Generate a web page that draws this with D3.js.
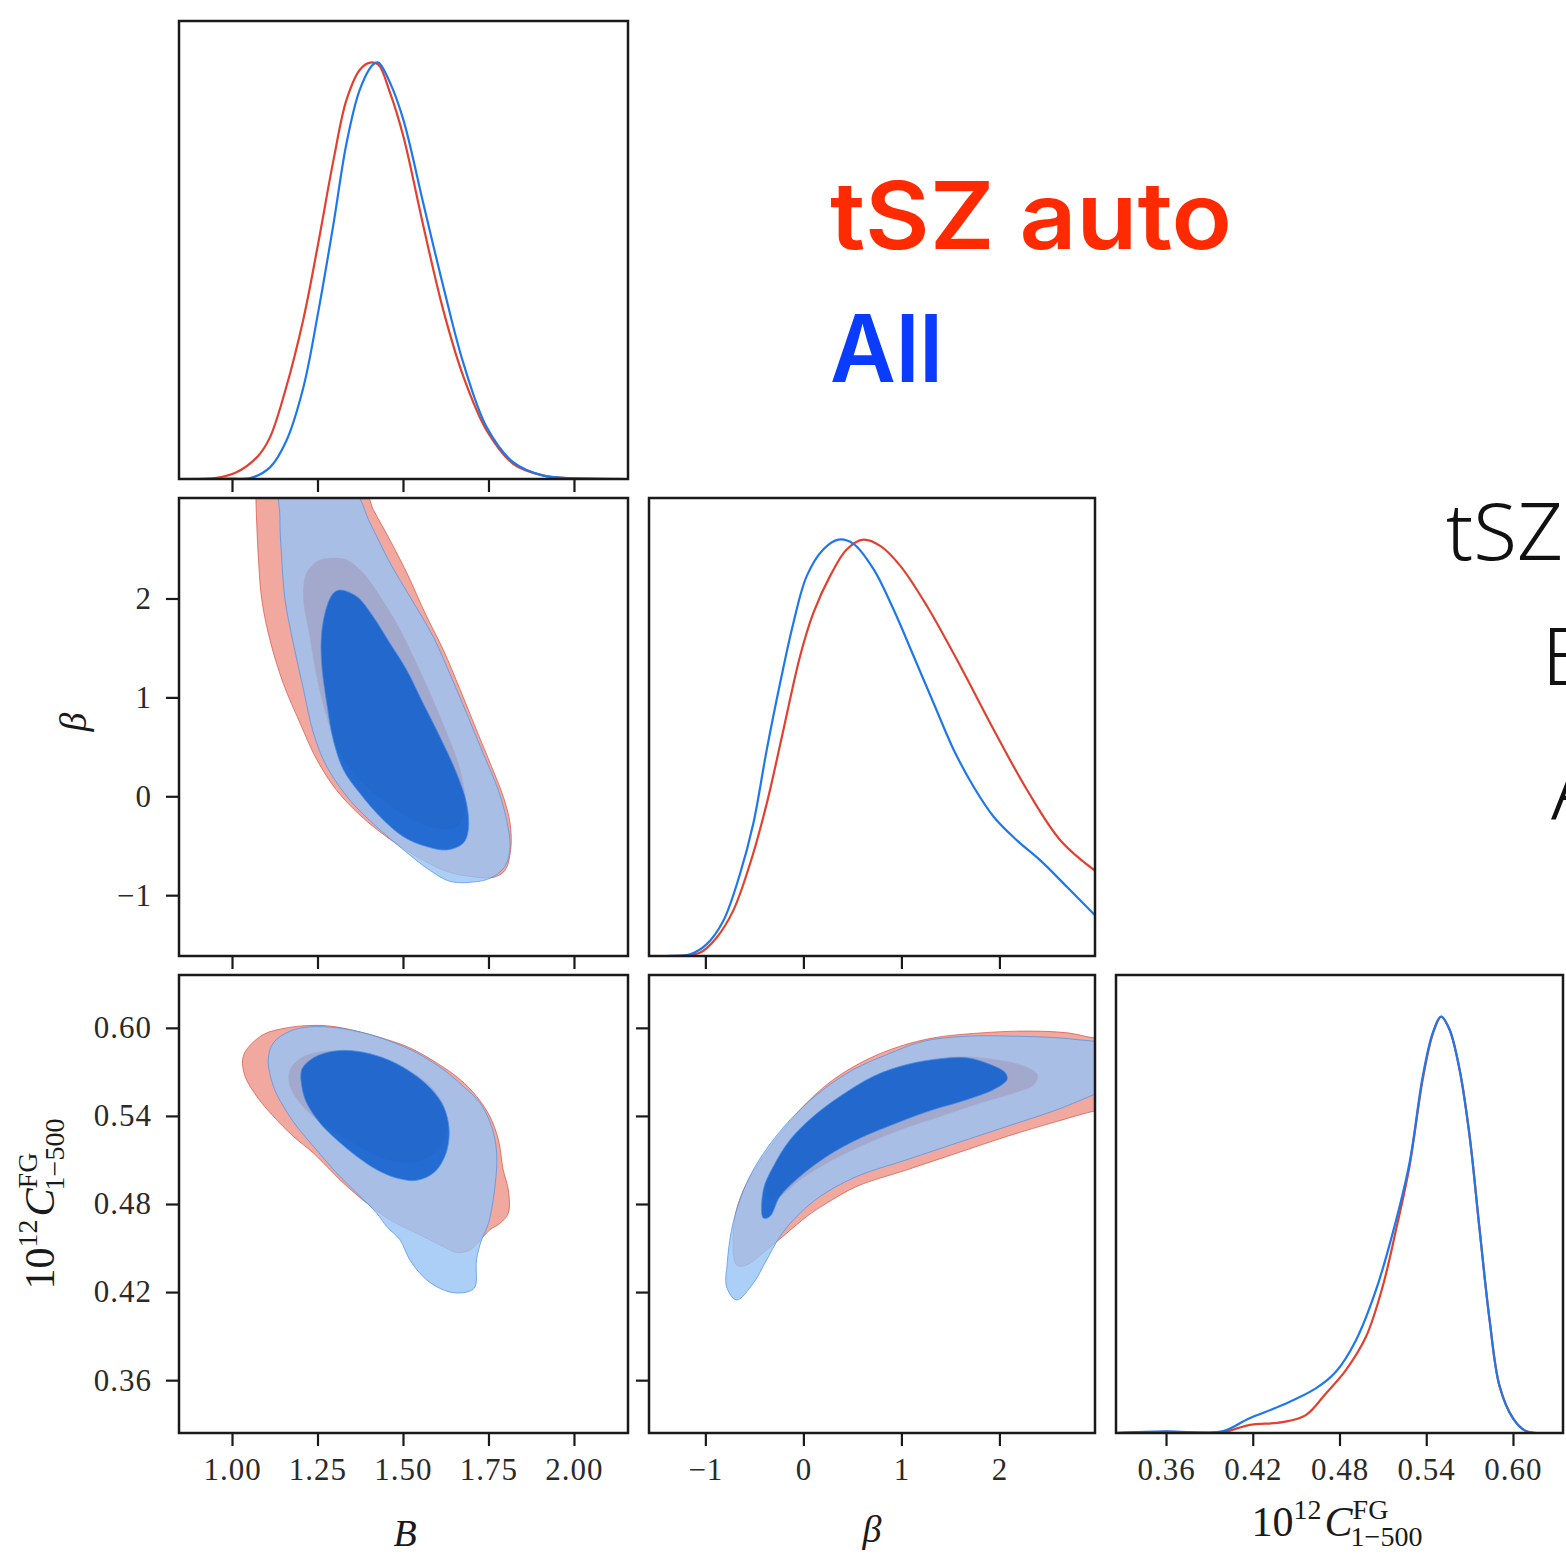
<!DOCTYPE html>
<html>
<head>
<meta charset="utf-8">
<style>
  body { margin: 0; background: #fff; }
  svg { display: block; }
</style>
</head>
<body>
<svg width="1566" height="1557"></svg>
<script src="https://cdn.jsdelivr.net/npm/d3@7"></script>
<script>
  // ---- axis ranges and ticks ----
  var bRange = [0.845, 2.158];
  var betaRangeX = [-1.575, 2.975];
  var betaRangeY = [-1.615, 3.016];
  var cRangeX = [0.3254, 0.6346];
  var cRangeY = [0.324, 0.636];
  var bTicks = [1.00, 1.25, 1.50, 1.75, 2.00];
  var betaTicks = [-1, 0, 1, 2];
  var cTicks = [0.36, 0.42, 0.48, 0.54, 0.60];

  // ---- 1D marginals: [value, normalised density] ----
  var bTsz = [[0.845,0],[0.95,0.002],[1.013,0.016],[1.077,0.056],[1.111,0.10],[1.155,0.21],[1.209,0.385],[1.253,0.57],[1.297,0.767],[1.335,0.911],[1.374,0.983],[1.404,1.0],[1.428,0.995],[1.462,0.928],[1.501,0.823],[1.560,0.606],[1.618,0.405],[1.677,0.245],[1.745,0.116],[1.823,0.036],[1.911,0.008],[1.988,0.002],[2.158,0]];
  var bAll = [[0.845,0],[1.0,0.001],[1.053,0.002],[1.111,0.028],[1.159,0.092],[1.209,0.221],[1.253,0.405],[1.297,0.614],[1.335,0.807],[1.374,0.936],[1.413,0.996],[1.428,1.0],[1.462,0.952],[1.501,0.863],[1.560,0.66],[1.618,0.462],[1.677,0.277],[1.745,0.124],[1.823,0.04],[1.911,0.008],[1.988,0.002],[2.158,0]];
  var betaTsz = [[-1.575,0],[-1.36,0],[-1.056,0.008],[-0.886,0.044],[-0.716,0.109],[-0.545,0.221],[-0.374,0.366],[-0.204,0.543],[-0.034,0.72],[0.102,0.824],[0.273,0.913],[0.444,0.977],[0.613,1.0],[0.784,0.985],[0.989,0.937],[1.262,0.84],[1.602,0.696],[1.943,0.543],[2.284,0.398],[2.625,0.277],[2.975,0.205]];
  var betaAll = [[-1.575,0],[-1.40,0],[-1.158,0.004],[-0.988,0.028],[-0.818,0.084],[-0.647,0.197],[-0.511,0.318],[-0.374,0.495],[-0.238,0.655],[-0.102,0.80],[0.035,0.913],[0.205,0.977],[0.358,1.0],[0.511,0.99],[0.716,0.929],[0.92,0.832],[1.125,0.72],[1.329,0.607],[1.534,0.495],[1.738,0.406],[1.943,0.334],[2.182,0.277],[2.42,0.229],[2.693,0.165],[2.975,0.098]];
  var cTsz = [[0.3254,0],[0.36,0.003],[0.3988,0.002],[0.4174,0.019],[0.4405,0.026],[0.4567,0.043],[0.4706,0.095],[0.4844,0.151],[0.4983,0.231],[0.5098,0.351],[0.5191,0.488],[0.5284,0.64],[0.5376,0.85],[0.5445,0.958],[0.5503,1.0],[0.5561,0.969],[0.5630,0.875],[0.57,0.715],[0.5769,0.49],[0.5838,0.273],[0.5908,0.112],[0.60,0.036],[0.6093,0.004],[0.6346,0]];
  var cAll = [[0.3254,0],[0.36,0.004],[0.3988,0.004],[0.4174,0.035],[0.4405,0.067],[0.4636,0.107],[0.4775,0.147],[0.4914,0.223],[0.5052,0.343],[0.5168,0.48],[0.5284,0.648],[0.5376,0.857],[0.5445,0.961],[0.5503,1.0],[0.5561,0.969],[0.5630,0.873],[0.57,0.712],[0.5769,0.488],[0.5838,0.271],[0.5908,0.111],[0.60,0.035],[0.6093,0.004],[0.6346,0]];

  // ---- 2D contours (68% inner, 95% outer) ----
  // B vs beta
  var bBetaTsz95 = [[1.070,3.10],[1.070,3.00],[1.077,2.42],[1.087,1.99],[1.111,1.58],[1.150,1.14],[1.199,0.74],[1.248,0.37],[1.306,0.06],[1.374,-0.19],[1.452,-0.41],[1.540,-0.61],[1.628,-0.76],[1.696,-0.81],[1.764,-0.82],[1.798,-0.75],[1.815,-0.54],[1.813,-0.27],[1.793,0.00],[1.759,0.30],[1.715,0.67],[1.667,1.08],[1.618,1.48],[1.569,1.82],[1.511,2.26],[1.462,2.59],[1.413,2.90],[1.384,3.10]];
  var bBetaTsz68 = [[1.287,2.406],[1.335,2.389],[1.384,2.254],[1.433,2.019],[1.481,1.749],[1.530,1.412],[1.579,1.041],[1.628,0.637],[1.667,0.266],[1.681,-0.105],[1.657,-0.307],[1.579,-0.307],[1.481,-0.138],[1.384,0.131],[1.316,0.435],[1.277,0.805],[1.248,1.210],[1.228,1.614],[1.209,2.019],[1.218,2.254],[1.248,2.372]];
  var bBetaAll95 = [[1.145,3.10],[1.140,2.83],[1.145,2.42],[1.155,1.99],[1.179,1.55],[1.209,1.08],[1.238,0.64],[1.277,0.30],[1.345,-0.04],[1.423,-0.31],[1.501,-0.54],[1.579,-0.75],[1.637,-0.86],[1.696,-0.87],[1.754,-0.83],[1.798,-0.71],[1.813,-0.51],[1.803,-0.24],[1.779,0.06],[1.735,0.43],[1.686,0.84],[1.637,1.24],[1.589,1.61],[1.520,2.02],[1.462,2.36],[1.404,2.76],[1.350,3.10]];
  var bBetaAll68 = [[1.316,2.086],[1.365,2.019],[1.413,1.816],[1.462,1.547],[1.511,1.277],[1.559,0.940],[1.608,0.603],[1.657,0.232],[1.686,-0.071],[1.691,-0.341],[1.676,-0.475],[1.628,-0.543],[1.569,-0.509],[1.501,-0.408],[1.433,-0.206],[1.374,0.030],[1.326,0.266],[1.296,0.570],[1.277,0.940],[1.262,1.345],[1.262,1.648],[1.277,1.917],[1.296,2.052]];
  // B vs C
  var bCTsz95 = [[1.031,0.5784],[1.043,0.5853],[1.092,0.5955],[1.160,0.6000],[1.228,0.6016],[1.287,0.6012],[1.365,0.5978],[1.452,0.5921],[1.520,0.5864],[1.598,0.5762],[1.667,0.5648],[1.715,0.5534],[1.754,0.5397],[1.779,0.5238],[1.793,0.5033],[1.808,0.4897],[1.808,0.4738],[1.784,0.4669],[1.754,0.4624],[1.735,0.4578],[1.696,0.4487],[1.657,0.4469],[1.618,0.4510],[1.540,0.4601],[1.462,0.4692],[1.394,0.4806],[1.326,0.4942],[1.277,0.5056],[1.238,0.5147],[1.179,0.5261],[1.121,0.5397],[1.072,0.5534],[1.038,0.5671]];
  var bCTsz68 = [[1.170,0.5716],[1.209,0.5803],[1.277,0.5841],[1.365,0.5830],[1.452,0.5784],[1.530,0.5693],[1.589,0.5580],[1.623,0.5443],[1.628,0.5306],[1.608,0.5193],[1.569,0.5113],[1.511,0.5079],[1.442,0.5113],[1.374,0.5193],[1.306,0.5284],[1.248,0.5375],[1.199,0.5489],[1.170,0.5602]];
  var bCAll95 = [[1.106,0.5784],[1.121,0.5898],[1.170,0.5978],[1.228,0.6007],[1.306,0.6000],[1.384,0.5966],[1.462,0.5909],[1.540,0.5830],[1.618,0.5716],[1.676,0.5602],[1.725,0.5489],[1.759,0.5329],[1.774,0.5147],[1.769,0.4920],[1.750,0.4669],[1.730,0.4556],[1.715,0.4419],[1.711,0.4237],[1.691,0.4203],[1.647,0.4196],[1.598,0.4237],[1.559,0.4305],[1.520,0.4419],[1.491,0.4556],[1.452,0.4647],[1.423,0.4738],[1.365,0.4874],[1.306,0.5011],[1.238,0.5193],[1.189,0.5329],[1.150,0.5466],[1.121,0.5602]];
  var bCAll68 = [[1.204,0.5716],[1.238,0.5796],[1.296,0.5841],[1.365,0.5841],[1.442,0.5796],[1.511,0.5716],[1.569,0.5614],[1.613,0.5489],[1.633,0.5352],[1.633,0.5216],[1.618,0.5102],[1.589,0.5011],[1.540,0.4961],[1.481,0.4977],[1.423,0.5034],[1.365,0.5124],[1.306,0.5238],[1.257,0.5352],[1.218,0.5489],[1.204,0.5602]];
  // beta vs C
  var betaCTsz95 = [[-0.682,0.4385],[-0.716,0.4578],[-0.682,0.4760],[-0.579,0.4942],[-0.409,0.5124],[-0.204,0.5306],[0.034,0.5489],[0.307,0.5648],[0.648,0.5784],[0.988,0.5875],[1.329,0.5932],[1.738,0.5962],[2.249,0.5978],[2.693,0.5966],[2.965,0.5932],[3.10,0.5932],[3.10,0.5443],[2.965,0.5432],[2.590,0.5363],[2.079,0.5261],[1.568,0.5147],[1.057,0.5033],[0.545,0.4920],[0.239,0.4806],[0.034,0.4715],[-0.170,0.4601],[-0.375,0.4487],[-0.579,0.4385]];
  var betaCTsz68 = [[-0.341,0.4829],[-0.375,0.4942],[-0.239,0.5124],[-0.034,0.5306],[0.239,0.5466],[0.545,0.5602],[0.886,0.5716],[1.261,0.5780],[1.602,0.5803],[1.943,0.5784],[2.249,0.5739],[2.386,0.5682],[2.352,0.5614],[2.147,0.5557],[1.806,0.5489],[1.397,0.5397],[0.988,0.5306],[0.579,0.5193],[0.239,0.5079],[-0.034,0.4965],[-0.239,0.4851]];
  var betaCAll95 = [[-0.682,0.4146],[-0.784,0.4237],[-0.777,0.4396],[-0.733,0.4624],[-0.648,0.4829],[-0.511,0.5033],[-0.307,0.5238],[-0.068,0.5420],[0.204,0.5580],[0.511,0.5716],[0.852,0.5818],[1.227,0.5909],[1.670,0.5943],[2.147,0.5943],[2.590,0.5932],[2.965,0.5909],[3.10,0.5903],[3.10,0.5580],[2.965,0.5545],[2.590,0.5443],[2.079,0.5329],[1.568,0.5216],[1.057,0.5102],[0.545,0.4988],[0.170,0.4851],[-0.068,0.4715],[-0.239,0.4578],[-0.375,0.4419],[-0.511,0.4260]];
  var betaCAll68 = [[-0.409,0.4704],[-0.409,0.4897],[-0.307,0.5056],[-0.136,0.5238],[0.102,0.5397],[0.375,0.5534],[0.716,0.5671],[1.057,0.5750],[1.397,0.5789],[1.670,0.5796],[1.909,0.5750],[2.062,0.5693],[2.079,0.5648],[1.943,0.5580],[1.670,0.5511],[1.329,0.5443],[0.954,0.5352],[0.545,0.5238],[0.239,0.5124],[-0.034,0.4988],[-0.239,0.4851],[-0.341,0.4715]];

  // ---- layout and style ----
  var svg = d3.select("svg");
  var colX = [[179, 628], [649, 1095], [1116, 1563]];
  var rowY = [[21, 479], [498, 956], [975, 1433]];
  var serif = "'Liberation Serif', 'DejaVu Serif', serif";
  var redLine = "#e2412f", blueLine = "#1f78eb";
  var style = {
    tsz: { line: redLine, f95: "#f1a89e", f68: "#d73c2d", op: 1, stroke: "#d9503f" },
    all: { line: blueLine, f95: "#96c3f5", f68: "#0357cd", op: 0.8, stroke: "#4a90e8" }
  };

  var xB = d3.scaleLinear().domain(bRange).range(colX[0]);
  var xBeta = d3.scaleLinear().domain(betaRangeX).range(colX[1]);
  var xC = d3.scaleLinear().domain(cRangeX).range(colX[2]);
  var yBeta = d3.scaleLinear().domain(betaRangeY).range([rowY[1][1], rowY[1][0]]);
  var yC = d3.scaleLinear().domain(cRangeY).range([rowY[2][1], rowY[2][0]]);

  var clipId = 0;
  function panel(c, r) {
    var id = "clip" + (clipId++);
    svg.append("clipPath").attr("id", id).append("rect")
      .attr("x", colX[c][0]).attr("y", rowY[r][0])
      .attr("width", colX[c][1] - colX[c][0]).attr("height", rowY[r][1] - rowY[r][0]);
    return svg.append("g").attr("clip-path", "url(#" + id + ")");
  }

  function frame(c, r) {
    svg.append("rect")
      .attr("x", colX[c][0]).attr("y", rowY[r][0])
      .attr("width", colX[c][1] - colX[c][0]).attr("height", rowY[r][1] - rowY[r][0])
      .attr("fill", "none").attr("stroke", "#1a1a1a").attr("stroke-width", 2.5);
  }

  function styleAxis(g) {
    g.select(".domain").remove();
    g.selectAll(".tick line").attr("stroke", "#1a1a1a").attr("stroke-width", 2.2);
    g.selectAll(".tick text").attr("font-family", serif).attr("font-size", 31)
      .attr("fill", "#2a2a2a").attr("letter-spacing", 1);
  }

  function bottomAxis(scale, ticks, r, fmt) {
    var ax = d3.axisBottom(scale).tickValues(ticks).tickSize(13).tickPadding(12)
      .tickFormat(fmt ? d3.format(fmt) : function() { return ""; });
    svg.append("g").attr("transform", "translate(0," + rowY[r][1] + ")").call(ax).call(styleAxis);
  }

  function leftAxis(scale, ticks, c, fmt) {
    var ax = d3.axisLeft(scale).tickValues(ticks).tickSize(13).tickPadding(14)
      .tickFormat(fmt ? d3.format(fmt) : function() { return ""; });
    svg.append("g").attr("transform", "translate(" + colX[c][0] + ",0)").call(ax).call(styleAxis);
  }

  function marginal(c, r, xs, series) {
    var ys = d3.scaleLinear().domain([0, 1.1]).range([rowY[r][1], rowY[r][0]]);
    var g = panel(c, r);
    var line = d3.line().x(function(d) { return xs(d[0]); }).y(function(d) { return ys(d[1]); })
      .curve(d3.curveCatmullRom.alpha(0.5));
    series.forEach(function(s) {
      g.append("path").datum(s.data).attr("d", line)
        .attr("fill", "none").attr("stroke", s.color).attr("stroke-width", 2.2);
    });
  }

  function contours(c, r, xs, ys, sets) {
    var g = panel(c, r);
    var shape = d3.line().x(function(d) { return xs(d[0]); }).y(function(d) { return ys(d[1]); })
      .curve(d3.curveCatmullRomClosed.alpha(0.5));
    sets.forEach(function(s) {
      [[s.c95, s.st.f95], [s.c68, s.st.f68]].forEach(function(p) {
        g.append("path").datum(p[0]).attr("d", shape)
          .attr("fill", p[1]).attr("fill-opacity", s.st.op)
          .attr("stroke", s.st.stroke).attr("stroke-width", 1).attr("stroke-opacity", 0.7);
      });
    });
  }

  // ---- diagonal ----
  marginal(0, 0, xB, [{ data: bTsz, color: redLine }, { data: bAll, color: blueLine }]);
  marginal(1, 1, xBeta, [{ data: betaTsz, color: redLine }, { data: betaAll, color: blueLine }]);
  marginal(2, 2, xC, [{ data: cTsz, color: redLine }, { data: cAll, color: blueLine }]);

  // ---- off-diagonal ----
  contours(0, 1, xB, yBeta, [
    { c95: bBetaTsz95, c68: bBetaTsz68, st: style.tsz },
    { c95: bBetaAll95, c68: bBetaAll68, st: style.all }]);
  contours(0, 2, xB, yC, [
    { c95: bCTsz95, c68: bCTsz68, st: style.tsz },
    { c95: bCAll95, c68: bCAll68, st: style.all }]);
  contours(1, 2, xBeta, yC, [
    { c95: betaCTsz95, c68: betaCTsz68, st: style.tsz },
    { c95: betaCAll95, c68: betaCAll68, st: style.all }]);

  // ---- axes and frames ----
  bottomAxis(xB, bTicks, 0, null);
  bottomAxis(xB, bTicks, 1, null);
  bottomAxis(xB, bTicks, 2, ".2f");
  bottomAxis(xBeta, betaTicks, 1, null);
  bottomAxis(xBeta, betaTicks, 2, "d");
  bottomAxis(xC, cTicks, 2, ".2f");
  leftAxis(yBeta, betaTicks, 0, "d");
  leftAxis(yC, cTicks, 0, ".2f");
  leftAxis(yC, cTicks, 1, null);
  [[0,0],[0,1],[1,1],[0,2],[1,2],[2,2]].forEach(function(p) { frame(p[0], p[1]); });

  // ---- axis titles ----
  function mathItalic(x, y, txt, rot) {
    svg.append("text").attr("transform", "translate(" + x + "," + y + ") rotate(" + rot + ")")
      .attr("text-anchor", "middle").attr("font-family", serif).attr("font-style", "italic")
      .attr("font-size", 38).attr("fill", "#1a1a1a").text(txt);
  }
  mathItalic(405, 1546, "B", 0);
  mathItalic(872, 1542, "β", 0);
  mathItalic(86, 722, "β", -90);

  // 10^12 C^FG_(1-500): one text, superscript and subscript stacked with tspans
  function cLabel(x, y, rot) {
    var g = svg.append("g").attr("transform", "translate(" + x + "," + y + ") rotate(" + rot + ")")
      .attr("font-family", serif).attr("fill", "#1a1a1a");
    var t = g.append("text").attr("font-size", 42);
    t.append("tspan").text("10");
    t.append("tspan").attr("font-size", 28).attr("dy", -17).text("12");
    t.append("tspan").attr("font-style", "italic").attr("dy", 17).attr("dx", 3).text("C");
    var w = t.node().getComputedTextLength() + 3;
    t.append("tspan").attr("font-size", 28).attr("x", w).attr("dy", -17).text("FG");
    t.append("tspan").attr("font-size", 28).attr("x", w - 2).attr("dy", 27).text("1−500");
    var total = t.node().getBBox().width;
    t.attr("transform", "translate(" + (-total / 2) + ",0)");
  }
  cLabel(1337, 1536, 0);
  cLabel(54, 1204, -90);

  // ---- legend ----
  svg.append("text").attr("x", 830).attr("y", 249)
    .attr("font-family", "Inter, 'Liberation Sans', sans-serif").attr("font-weight", 600)
    .attr("font-size", 93).attr("fill", "#ff2a00")
    .attr("textLength", 402).attr("lengthAdjust", "spacingAndGlyphs").text("tSZ auto");
  svg.append("text").attr("x", 830).attr("y", 382)
    .attr("font-family", "Inter, 'Liberation Sans', sans-serif").attr("font-weight", 600)
    .attr("font-size", 93).attr("fill", "#0a3cff")
    .attr("textLength", 113).attr("lengthAdjust", "spacingAndGlyphs").text("All");

  // ---- text cut off at the right edge, as in the source image ----
  var side = [["tSZ", 1446, 560], ["B", 1542, 685], ["A", 1551, 820]];
  side.forEach(function(s) {
    svg.append("text").attr("x", s[1]).attr("y", s[2])
      .attr("font-family", "'Noto Sans', Roboto, sans-serif").attr("font-weight", 300)
      .attr("font-size", 80).attr("fill", "#111").text(s[0]);
  });
</script>
</body>
</html>
